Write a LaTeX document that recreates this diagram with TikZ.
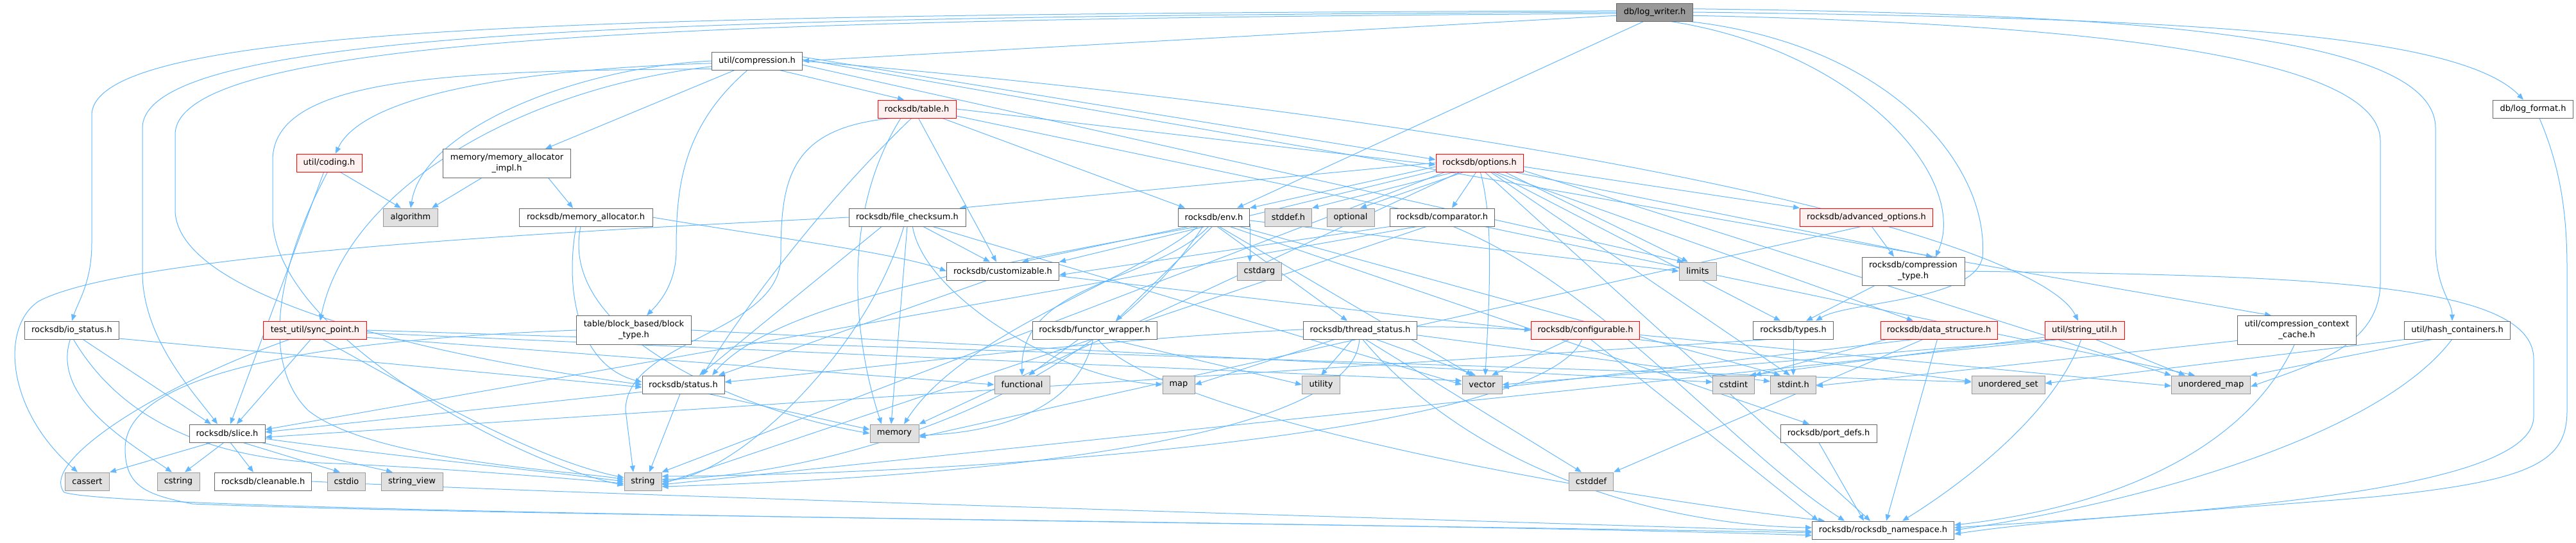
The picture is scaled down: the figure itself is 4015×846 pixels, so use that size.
\documentclass[tikz,border=0pt]{standalone}
\usepackage{fontspec}
\setmainfont{DejaVu Sans}
\usetikzlibrary{arrows.meta}
\definecolor{edgec}{HTML}{63B8FF}
\definecolor{nbord}{HTML}{666666}
\definecolor{gfill}{HTML}{E0E0E0}
\definecolor{gbord}{HTML}{999999}
\definecolor{rfill}{HTML}{FFF0F0}
\definecolor{rbord}{HTML}{FF0000}
\definecolor{rootfill}{HTML}{999999}
\pgfdeclarelayer{bg}
\pgfsetlayers{bg,main}
\begin{document}
\begin{tikzpicture}[x=1pt,y=-1pt,
  box/.style={rectangle, line width=1pt, inner sep=0pt, minimum height=28pt, font=\fontsize{13}{17}\selectfont, align=center},
  nd/.style={box, draw=nbord, fill=white},
  ext/.style={box, draw=gbord, fill=gfill},
  trunc/.style={box, draw=rbord, fill=rfill},
  rootn/.style={box, draw=nbord, fill=rootfill},
  two/.style={minimum height=45pt},
  e/.style={draw=edgec, line width=1pt, -{Triangle[length=10pt,width=8pt]}}]
\useasboundingbox (0,0) rectangle (4015,846);

\node[rootn, minimum width=119pt] (LW) at (2579,19) {db/log\_writer.h};
\node[nd, minimum width=141pt] (CMP) at (1180,95) {util/compression.h};
\node[trunc, minimum width=122pt] (TBL) at (1429,170) {rocksdb/table.h};
\node[trunc, minimum width=136pt] (OPT) at (2306,254) {rocksdb/options.h};
\node[trunc, minimum width=102pt] (COD) at (513,254) {util/coding.h};
\node[nd, two, minimum width=199pt] (MAI) at (790,255) {memory/memory\_allocator\\\_impl.h};
\node[ext, minimum width=85pt] (ALG) at (640,339) {algorithm};
\node[nd, minimum width=208pt] (MA) at (913,339) {rocksdb/memory\_allocator.h};
\node[nd, minimum width=182pt] (FC) at (1414,339) {rocksdb/file\_checksum.h};
\node[nd, minimum width=111pt] (ENV) at (1892,339) {rocksdb/env.h};
\node[ext, minimum width=73pt] (STDDEF) at (2008,339) {stddef.h};
\node[ext, minimum width=74pt] (OPTL) at (2105,339) {optional};
\node[nd, minimum width=163pt] (CMPR) at (2248,339) {rocksdb/comparator.h};
\node[trunc, minimum width=207pt] (ADV) at (2909,339) {rocksdb/advanced\_options.h};
\node[nd, minimum width=175pt] (CUST) at (1563,423) {rocksdb/customizable.h};
\node[ext, minimum width=69pt] (CSTDARG) at (1963,423) {cstdarg};
\node[ext, minimum width=58pt] (LIM) at (2646,423) {limits};
\node[nd, two, minimum width=160pt, minimum height=44pt] (CT) at (2982,423) {rocksdb/compression\\\_type.h};
\node[nd, minimum width=147pt] (IOS) at (112,515) {rocksdb/io\_status.h};
\node[trunc, minimum width=161pt] (SP) at (491,515) {test\_util/sync\_point.h};
\node[nd, two, minimum width=179pt] (BT) at (988,515) {table/block\_based/block\\\_type.h};
\node[nd, minimum width=194pt] (FW) at (1706,515) {rocksdb/functor\_wrapper.h};
\node[nd, minimum width=177pt] (TS) at (2120,515) {rocksdb/thread\_status.h};
\node[trunc, minimum width=169pt] (CFG) at (2471,515) {rocksdb/configurable.h};
\node[nd, minimum width=125pt] (TYP) at (2795,515) {rocksdb/types.h};
\node[trunc, minimum width=182pt] (DS) at (3022,515) {rocksdb/data\_structure.h};
\node[trunc, minimum width=124pt] (SU) at (3249,515) {util/string\_util.h};
\node[nd, two, minimum width=185pt] (CCC) at (3580,515) {util/compression\_context\\\_cache.h};
\node[nd, minimum width=165pt] (HC) at (3830,515) {util/hash\_containers.h};
\node[nd, minimum width=128pt] (ST) at (1065,600) {rocksdb/status.h};
\node[ext, minimum width=86pt] (FUNC) at (1593,600) {functional};
\node[ext, minimum width=50pt] (MAP) at (1837,600) {map};
\node[ext, minimum width=59pt] (UTIL) at (2059,600) {utility};
\node[ext, minimum width=62pt] (VEC) at (2310,600) {vector};
\node[ext, minimum width=65pt] (CSTDINT) at (2702,600) {cstdint};
\node[ext, minimum width=71pt] (STDINT) at (2795,600) {stdint.h};
\node[ext, minimum width=114pt] (USET) at (3130,600) {unordered\_set};
\node[ext, minimum width=123pt] (UMAP) at (3446,600) {unordered\_map};
\node[nd, minimum width=118pt] (SL) at (354,676) {rocksdb/slice.h};
\node[ext, minimum width=76pt] (MEM) at (1394,676) {memory};
\node[nd, minimum width=150pt] (PD) at (2850,676) {rocksdb/port\_defs.h};
\node[ext, minimum width=69pt] (CASS) at (136,751) {cassert};
\node[ext, minimum width=66pt] (CSTR) at (278,751) {cstring};
\node[nd, minimum width=151pt] (CLN) at (410,751) {rocksdb/cleanable.h};
\node[ext, minimum width=59pt] (CSTDIO) at (540,751) {cstdio};
\node[ext, minimum width=96pt] (SV) at (642,751) {string\_view};
\node[ext, minimum width=58pt] (STR) at (1002,751) {string};
\node[ext, minimum width=69pt] (CSTDDEF) at (2480,751) {cstddef};
\node[nd, minimum width=221pt] (NS) at (2935,827) {rocksdb/rocksdb\_namespace.h};
\node[nd, minimum width=125pt] (LF) at (3948,170) {db/log\_format.h};

\begin{pgfonlayer}{bg}
% log_writer
\draw[e] (LW.185) -- (CMP.east);
\draw[e] (LW.178) .. controls (900,22) and (143,40) .. (143,180) -- (143,380) .. controls (143,440) and (122,470) .. (IOS.north);
\draw[e] (LW.180) .. controls (1000,26) and (222,48) .. (222,200) -- (222,430) .. controls (225,530) and (300,610) .. ([xshift=-15pt]SL.north);
\draw[e] (LW.182) .. controls (1100,30) and (273,55) .. (273,210) -- (273,330) .. controls (280,470) and (700,560) .. (ST.west);
\draw[e] (LW.220) -- ([xshift=-20pt]ENV.north east);
\draw[e] (LW.-30) .. controls (2900,80) and (3070,280) .. ([xshift=35pt]CT.north);
\draw[e] (LW.-15) .. controls (2950,70) and (3100,260) .. (3090,400) .. controls (3080,470) and (2880,470) .. ([xshift=35pt]TYP.north);
\draw[e] (LW.east) .. controls (3400,28) and (3830,50) .. ([xshift=-15pt]LF.north);
\draw[e] (LW.5) .. controls (3300,22) and (3796,50) .. (3796,200) -- (3796,380) .. controls (3796,450) and (3822,470) .. ([xshift=-8pt]HC.north);
\draw[e] (LW.-5) .. controls (3200,36) and (3710,80) .. (3710,220) -- (3710,440) .. controls (3710,540) and (3600,570) .. ([yshift=-3pt]UMAP.east);
% compression.h
\draw[e] (CMP.west) .. controls (900,105) and (660,200) .. (ALG.north);
\draw[e] (CMP.183) .. controls (750,110) and (560,160) .. ([xshift=10pt]COD.north);
\draw[e] (CMP.187) .. controls (800,140) and (540,300) .. ([xshift=8pt]SP.north);
\draw[e] (CMP.190) .. controls (700,110) and (425,120) .. (425,250) -- (425,343) .. controls (430,520) and (800,720) .. ([yshift=-6pt]STR.west);
\draw[e] ([xshift=-35pt]CMP.south) -- ([xshift=60pt]MAI.north);
\draw[e] ([xshift=-15pt]CMP.south) .. controls (1060,200) and (1054,300) .. (1054,390) .. controls (1054,440) and (1030,470) .. ([xshift=20pt]BT.north);
\draw[e] ([xshift=35pt]CMP.south) -- ([xshift=-20pt]TBL.north);
\draw[e] (CMP.5) -- ([yshift=5pt]OPT.west);
\draw[e] (CMP.-5) -- ([xshift=-22pt]LIM.north);
\draw[e] (CMP.east) .. controls (2500,200) and (3180,380) .. ([xshift=-10pt]SU.north);
\draw[e] (CMP.2) -- ([xshift=-40pt]CCC.north);
% table.h
\draw[e] (TBL.-80) -- ([xshift=-10pt]CUST.north);
\draw[e] (TBL.-20) -- ([xshift=-45pt]ENV.north);
\draw[e] (TBL.east) -- ([yshift=-3pt]OPT.west);
\draw[e] (TBL.200) .. controls (1230,200) and (1217,280) .. (1217,400) .. controls (1217,520) and (975,530) .. (975,640) -- ([xshift=-15pt]STR.north);
\draw[e] (TBL.-150) .. controls (1300,350) and (1340,560) .. ([xshift=-20pt]MEM.north);
\draw[e] (TBL.-10) -- ([xshift=-25pt]UMAP.north);
\draw[e] (TBL.-120) .. controls (1300,300) and (1180,450) .. ([xshift=30pt]ST.north);
% options.h
\draw[e] (OPT.200) -- (STDDEF.north east);
\draw[e] (OPT.210) -- ([xshift=15pt]OPTL.north);
\draw[e] (OPT.-110) -- ([xshift=15pt]CMPR.north);
\draw[e] (OPT.-20) -- ([xshift=-15pt]LIM.north);
\draw[e] (OPT.-40) -- ([xshift=-5pt]STDINT.north);
\draw[e] (OPT.205) -- (MEM.north east);
\draw[e] (OPT.195) -- (STR.north east);
\draw[e] (OPT.-10) -- (UMAP.north west);
\draw[e] (OPT.-85) .. controls (2330,350) and (2320,480) .. ([xshift=5pt]VEC.north);
\draw[e] (OPT.-5) -- (ADV.north west);
\draw[e] (OPT.-15) -- ([xshift=30pt]CT.north);
\draw[e] (OPT.190) -- (CUST.north east);
\draw[e] (OPT.-30) -- ([xshift=-40pt]DS.north);
\draw[e] (OPT.185) -- (ENV.north east);
\draw[e] (OPT.180) -- ([xshift=-10pt]FC.north east);
\draw[e] (OPT.-60) -- ([xshift=-20pt]NS.north);
\draw[e] (OPT.-35) -- ([xshift=-20pt]TYP.north);
% coding.h
\draw[e] (COD.-40) -- ([xshift=-15pt]ALG.north);
\draw[e] (COD.-120) -- ([xshift=5pt]SL.north);
\draw[e] (COD.-100) .. controls (440,400) and (400,560) .. (480,640) .. controls (580,720) and (900,735) .. ([yshift=3pt]STR.west);
% memory_allocator_impl.h / memory_allocator.h
\draw[e] ([xshift=60pt]MAI.south west) -- ([xshift=-10pt]ALG.north east);
\draw[e] ([xshift=-35pt]MAI.south east) -- ([xshift=-20pt]MA.north);
\draw[e] ([xshift=-15pt]MA.south) .. controls (880,450) and (900,570) .. ([yshift=4pt]ST.west);
\draw[e] ([xshift=-8pt]MA.south) .. controls (870,520) and (1150,640) .. (MEM.west);
\draw[e] (MA.east) .. controls (1200,370) and (1400,395) .. (CUST.west);
% file_checksum.h
\draw[e] (FC.-30) -- ([xshift=-20pt]CUST.north);
\draw[e] (FC.south) -- ([xshift=-5pt]MEM.north);
\draw[e] (FC.west) .. controls (900,360) and (200,395) .. (60,470) .. controls (0,510) and (10,640) .. ([xshift=-15pt]CASS.north);
\draw[e] (FC.-60) .. controls (1440,460) and (1650,590) .. (MAP.west);
\draw[e] (FC.-110) .. controls (1350,550) and (1150,740) .. (STR.east);
\draw[e] (FC.-20) -- (VEC.west);
\draw[e] (FC.200) -- ([xshift=25pt]ST.north);
% env.h
\draw[e] (ENV.200) -- ([xshift=30pt]CUST.north);
\draw[e] (ENV.-10) -- ([xshift=-15pt]CSTDARG.north);
\draw[e] (ENV.-120) .. controls (1800,440) and (1590,440) .. (FUNC.north);
\draw[e] (ENV.-100) -- ([xshift=33pt]FW.north);
\draw[e] (ENV.-150) .. controls (1760,440) and (1500,520) .. ([xshift=15pt]MEM.north);
\draw[e] (ENV.-140) .. controls (1700,620) and (1300,740) .. ([yshift=3pt]STR.east);
\draw[e] (ENV.-20) -- ([xshift=-20pt]STDINT.north);
\draw[e] (ENV.-5) -- (LIM.west);
\draw[e] (ENV.-60) -- ([xshift=-15pt]VEC.north);
\draw[e] (ENV.210) .. controls (1500,420) and (1200,480) .. ([xshift=45pt]ST.north);
\draw[e] (ENV.-70) -- ([xshift=-20pt]TS.north);
\draw[e] (ENV.-30) -- ([xshift=-30pt]PD.north);
% comparator.h
\draw[e] (CMPR.190) -- ([yshift=-6pt]CUST.east);
\draw[e] (CMPR.200) -- ([yshift=6pt]SL.east);
\draw[e] (CMPR.210) -- ([yshift=-4pt]STR.east);
\draw[e] (CMPR.-40) .. controls (2500,450) and (2700,700) .. ([xshift=-60pt]NS.north);
% advanced_options.h
\draw[e] (ADV.-60) -- ([xshift=-30pt]CT.north);
\draw[e] (ADV.-120) -- ([yshift=-6pt]MEM.east);
% customizable.h
\draw[e] (CUST.-5) -- (CFG.west);
\draw[e] (CUST.210) -- ([xshift=55pt]ST.north);
% compression_type.h
\draw[e] ([xshift=-60pt]CT.south) -- ([xshift=20pt]TYP.north);
\draw[e] (CT.east) .. controls (3600,430) and (3949,440) .. (3949,560) -- (3949,650) .. controls (3949,770) and (3400,800) .. ([yshift=4pt]NS.east);
% io_status.h
\draw[e] (IOS.-10) -- ([yshift=-4pt]ST.west);
\draw[e] (IOS.-40) -- ([xshift=-25pt]SL.north);
\draw[e] (IOS.-100) .. controls (80,620) and (200,690) .. ([xshift=-10pt]CSTR.north);
\draw[e] (IOS.-80) .. controls (180,640) and (300,712) .. (500,722) .. controls (700,730) and (900,748) .. ([yshift=-3pt]STR.west);
% sync_point.h
\draw[e] (SP.-115) -- ([xshift=15pt]SL.north);
\draw[e] (SP.-8) -- (FUNC.west);
\draw[e] (SP.-50) .. controls (700,640) and (850,720) .. ([yshift=6pt]STR.west);
\draw[e] (SP.east) -- ([yshift=4pt]USET.west);
\draw[e] (SP.-3) -- ([yshift=6pt]VEC.west);
\draw[e] (SP.-160) .. controls (250,600) and (60,720) .. (100,768) .. controls (200,800) and (2000,815) .. ([yshift=-4pt]NS.west);
% block_type.h
\draw[e] (BT.east) -- ([yshift=4pt]CSTDINT.west);
\draw[e] (BT.west) .. controls (500,530) and (195,580) .. (195,700) .. controls (195,760) and (230,772) .. (300,786) .. controls (800,806) and (2200,815) .. ([yshift=-8pt]NS.west);
% functor_wrapper.h
\draw[e] (FW.-150) -- ([xshift=10pt]FUNC.north);
\draw[e] (FW.-100) .. controls (1680,640) and (1550,675) .. ([yshift=-3pt]MEM.east);
\draw[e] (FW.-30) -- (UTIL.west);
\draw[e] (FW.-70) .. controls (1800,640) and (2400,760) .. ([xshift=20pt]NS.north west);
% thread_status.h
\draw[e] (TS.-130) -- (UTIL.north);
\draw[e] (TS.-30) -- ([xshift=-10pt]VEC.north);
\draw[e] (TS.200) -- (MAP.east);
\draw[e] (TS.-5) -- ([yshift=5pt]STDINT.west);
\draw[e] (TS.-60) -- ([xshift=-15pt]CSTDDEF.north);
\draw[e] (TS.-95) .. controls (2110,690) and (1500,745) .. ([yshift=-8pt]STR.east);
\draw[e] (TS.-75) .. controls (2300,740) and (2600,820) .. ([yshift=4pt]NS.west);
% configurable.h
\draw[e] (CFG.-150) -- ([xshift=15pt]VEC.north);
\draw[e] (CFG.-110) .. controls (2400,680) and (1500,740) .. ([yshift=8pt]STR.east);
\draw[e] (CFG.-60) -- ([xshift=10pt]NS.north west);
\draw[e] (CFG.-5) -- ([yshift=-2pt]UMAP.west);
\draw[e] (CFG.-10) -- ([yshift=5pt]USET.west);
\draw[e] (CFG.west) .. controls (2000,490) and (1500,560) .. ([yshift=4pt]ST.east);
% types.h
\draw[e] (TYP.south) -- (STDINT.north);
\draw[e] (TYP.200) -- ([yshift=-6pt]SL.east);
% data_structure.h
\draw[e] (DS.-170) -- (CSTDINT.north east);
\draw[e] (DS.-150) -- (CSTDDEF.north east);
\draw[e] (DS.-100) -- ([xshift=5pt]NS.north);
\draw[e] (DS.-160) -- ([yshift=-4pt]VEC.east);
% string_util.h
\draw[e] (SU.190) -- ([xshift=-8pt]CSTDINT.north east);
\draw[e] (SU.200) -- ([yshift=-5pt]STR.east);
\draw[e] (SU.-40) -- ([xshift=-40pt]UMAP.north);
\draw[e] (SU.195) -- (VEC.east);
\draw[e] (SU.-110) .. controls (3200,650) and (3050,760) .. ([xshift=30pt]NS.north);
% compression_context_cache.h
\draw[e] (CCC.190) -- ([yshift=-2pt]STDINT.east);
\draw[e] (CCC.-100) .. controls (3500,700) and (3300,790) .. ([yshift=8pt]NS.east);
% hash_containers.h
\draw[e] (HC.-160) -- (UMAP.north east);
\draw[e] (HC.190) -- ([yshift=2pt]USET.east);
\draw[e] (HC.-120) .. controls (3700,690) and (3300,790) .. (NS.east);
% status.h
\draw[e] (ST.190) -- ([yshift=2pt]SL.east);
\draw[e] ([xshift=-5pt]ST.south) -- ([xshift=10pt]STR.north);
\draw[e] (ST.-20) -- ([yshift=6pt]MEM.west);
% slice.h
\draw[e] (SL.-150) -- (CASS.north east);
\draw[e] (SL.-110) -- ([xshift=10pt]CSTR.north);
\draw[e] (SL.-70) -- ([xshift=-15pt]CLN.north);
\draw[e] (SL.-30) -- ([xshift=-10pt]CSTDIO.north);
\draw[e] (SL.-15) -- ([xshift=-30pt]SV.north);
\draw[e] (SL.-8) .. controls (600,710) and (850,735) .. ([yshift=0pt]STR.west);
% cleanable.h, port_defs.h, log_format.h
\draw[e] (CLN.east) .. controls (1000,775) and (2300,812) .. ([yshift=-2pt]NS.west);
\draw[e] ([xshift=-15pt]PD.south) -- ([xshift=-30pt]NS.north);
\draw[e] ([xshift=10pt]LF.south) .. controls (3990,260) and (4001,330) .. (4001,420) -- (4001,640) .. controls (4001,720) and (3950,750) .. (3700,775) .. controls (3400,800) and (3200,810) .. ([yshift=-6pt]NS.east);
\end{pgfonlayer}
\end{tikzpicture}
\end{document}
